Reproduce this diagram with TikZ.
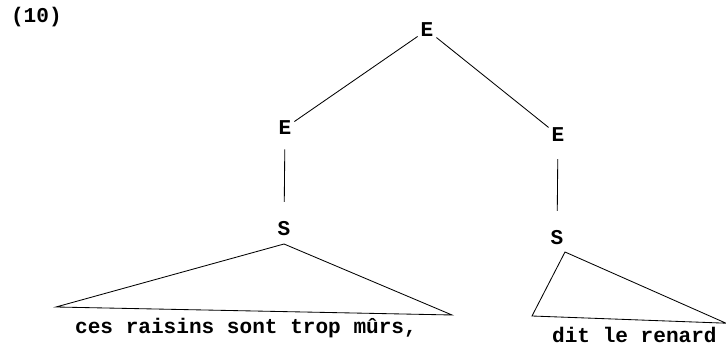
\documentclass[tikz,border=0pt]{standalone}
\usepackage{fontspec}
\setmonofont{Liberation Mono}
\begin{document}
\begin{tikzpicture}[
	cat/.style={font=\ttfamily\bfseries\fontsize{15}{17}\selectfont, inner sep=2pt},
	words/.style={font=\ttfamily\bfseries\fontsize{15}{18}\selectfont, inner sep=0pt},
	edge/.style={line width=0.6pt}
]
\useasboundingbox (0,0) rectangle (18.15,-8.7);

\node[cat, anchor=west] (num) at (0.2, -0.425) {(10)};

\node[cat] (top)   at (10.675, -0.75)  {E};
\node[cat] (left)  at (7.125,  -3.2)   {E};
\node[cat] (right) at (13.95,  -3.375) {E};
\node[cat] (sl)    at (7.1,    -5.725) {S};
\node[cat] (sr)    at (13.925, -5.95)  {S};

\coordinate (sltop) at (7.1,    -6.1);
\coordinate (srtop) at (14.125, -6.3);
\coordinate (sla)   at (1.4,  -7.675);
\coordinate (slb)   at (11.3, -7.875);
\coordinate (sra)   at (13.3,  -7.9);
\coordinate (srb)   at (18.15, -8.08);

\node[words] (cesr) at (6.15, -8.2)  {ces raisins sont trop mûrs,};
\node[words] (dit)  at (15.86, -8.38) {dit le renard};

\draw[edge] (top) -- (left);
\draw[edge] (top) -- (right);
\draw[edge, shorten <=8pt, shorten >=12pt] (left) -- (sl);
\draw[edge, shorten <=10pt, shorten >=12pt] (right) -- (sr);

\draw[edge] (sla) -- (sltop) -- (slb) -- cycle;
\draw[edge] (sra) -- (srtop) -- (srb) -- cycle;

\end{tikzpicture}
\end{document}
